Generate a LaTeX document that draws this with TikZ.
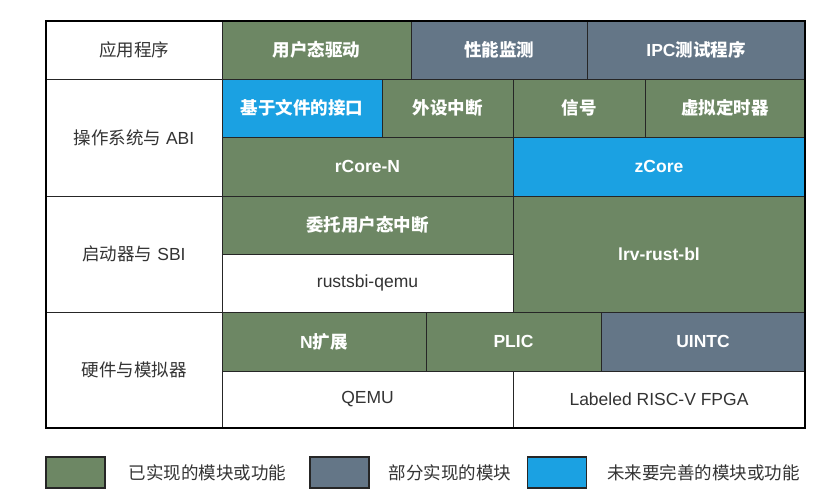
\documentclass[tikz,border=0pt]{standalone}
\usepackage{fontspec}
\setmainfont{Liberation Sans}
\newfontfamily\cjk{Noto Sans CJK SC}
\usetikzlibrary{positioning}
\definecolor{layDone}{HTML}{6D8764}
\definecolor{layPart}{HTML}{647687}
\definecolor{layTodo}{HTML}{1BA1E2}
\definecolor{layText}{HTML}{333333}
\newcommand{\zh}[1]{{\cjk #1}}

\begin{document}
\begin{tikzpicture}[x=1pt,y=-1pt,
    font=\fontsize{17.5}{20}\selectfont,
    cell/.style={draw=black!85,line width=0.9pt,inner sep=0pt,outer sep=0pt,
                 text=layText},
    done/.style={cell,fill=layDone,text=white,
                 font=\fontsize{17.5}{20}\selectfont\bfseries},
    part/.style={done,fill=layPart},
    todo/.style={done,fill=layTodo},
    plain/.style={cell,fill=white},
    key/.style={draw=black!85,line width=1.2pt,minimum width=59pt,
                minimum height=31pt,inner sep=0pt},
    keytext/.style={inner sep=0pt,text=layText}]
  \useasboundingbox (0,0) rectangle (831,493);

  % layer names
  \node[plain,minimum width=176pt,minimum height=58pt]  (app)  at (134,50)    {\zh{应用程序}};
  \node[plain,minimum width=176pt,minimum height=117pt] (os)   at (134,137.5) {\zh{操作系统与} ABI};
  \node[plain,minimum width=176pt,minimum height=116pt] (boot) at (134,254)   {\zh{启动器与} SBI};
  \node[plain,minimum width=176pt,minimum height=116pt] (hw)   at (134,370)   {\zh{硬件与模拟器}};

  % applications
  \node[done,minimum width=189pt,minimum height=58pt] (drv)  at (316.5,50) {\zh{用户态驱动}};
  \node[part,minimum width=176pt,minimum height=58pt] (perf) at (499,50)   {\zh{性能监测}};
  \node[part,minimum width=218pt,minimum height=58pt] (ipc)  at (696,50)   {IPC\zh{测试程序}};

  % kernel
  \node[todo,minimum width=160pt,minimum height=58pt] (fileif) at (302,108)   {\zh{基于文件的接口}};
  \node[done,minimum width=131pt,minimum height=58pt] (extint) at (447.5,108) {\zh{外设中断}};
  \node[done,minimum width=132pt,minimum height=58pt] (signal) at (579,108)   {\zh{信号}};
  \node[done,minimum width=160pt,minimum height=58pt] (vtimer) at (725,108)   {\zh{虚拟定时器}};
  \node[done,minimum width=291pt,minimum height=59pt] (rcore)  at (367.5,166.5) {rCore-N};
  \node[todo,minimum width=292pt,minimum height=59pt] (zcore)  at (659,166.5)   {zCore};

  % bootloader / SBI
  \node[done,minimum width=291pt,minimum height=58pt]  (deleg)   at (367.5,225) {\zh{委托用户态中断}};
  \node[plain,minimum width=291pt,minimum height=58pt] (rustsbi) at (367.5,283) {rustsbi-qemu};
  \node[done,minimum width=292pt,minimum height=116pt] (lrv)     at (659,254)   {lrv-rust-bl};

  % hardware
  \node[done,minimum width=204pt,minimum height=59pt]  (next)  at (324,341.5)   {N\zh{扩展}};
  \node[done,minimum width=175pt,minimum height=59pt]  (plic)  at (513.5,341.5) {PLIC};
  \node[part,minimum width=204pt,minimum height=59pt]  (uintc) at (703,341.5)   {UINTC};
  \node[plain,minimum width=291pt,minimum height=57pt] (qemu)  at (367.5,399.5) {QEMU};
  \node[plain,minimum width=292pt,minimum height=57pt] (fpga)  at (659,399.5)   {Labeled RISC-V FPGA};

  \draw[line width=1.2pt] (app.north west) rectangle (fpga.south east);

  % legend
  \node[key,fill=layDone] (k1) at (75.5,472.5)  {};
  \node[key,fill=layPart] (k2) at (339.5,472.5) {};
  \node[key,fill=layTodo] (k3) at (557,472.5)   {};
  \node[keytext,right=23pt of k1] (t1) {\zh{已实现的模块或功能}};
  \node[keytext,right=19pt of k2] (t2) {\zh{部分实现的模块}};
  \node[keytext,right=20pt of k3] (t3) {\zh{未来要完善的模块或功能}};
\end{tikzpicture}
\end{document}
